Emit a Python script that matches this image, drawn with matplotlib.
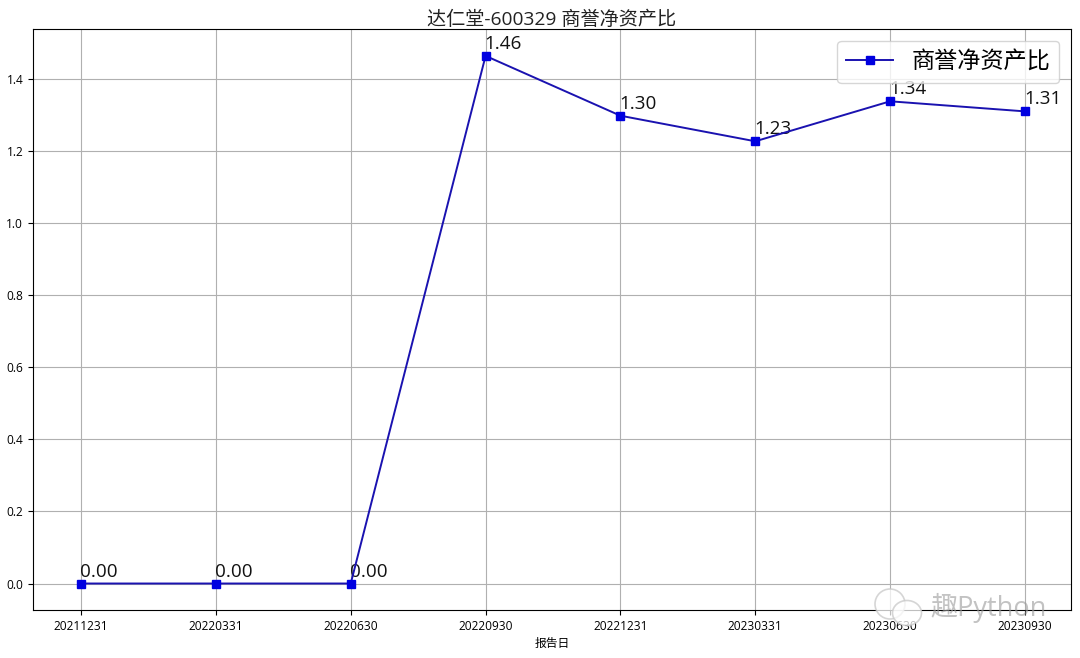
import matplotlib
matplotlib.use('Agg')
import matplotlib.pyplot as plt
from matplotlib.patches import Ellipse

plt.rcParams['font.family'] = ['Open Sans', 'Noto Sans CJK SC', 'DejaVu Sans']

dates = ['20211231', '20220331', '20220630', '20220930', '20221231', '20230331', '20230630', '20230930']
values = [0.00, 0.00, 0.00, 1.464, 1.298, 1.227, 1.338, 1.31]
title = '达仁堂-600329 商誉净资产比'
series = '商誉净资产比'
xlabel = '报告日'
watermark = '趣Python'

fig = plt.figure(figsize=(10.8, 6.58), dpi=100)
ax = fig.add_axes([33/1080, 1-610/658, (1071-33)/1080, (610-29)/658])
ax.plot(dates, values, color='#1a12b0', marker='s', markersize=5.4, markerfacecolor='#0000e0',
        markeredgecolor='#0000e0', linewidth=1.4, label=series)
for i, v in enumerate(values):
    ax.annotate(f'{v:.2f}', (i, v), xytext=(-0.7, 5.0), textcoords='offset points', fontsize=13.6, color='#111111',
                zorder=1.5)
ax.grid(True, color='#b0b0b0', linewidth=0.8)
ax.set_axisbelow(True)
ax.set_ylim(-0.0735, 1.5386)
ax.set_xlim(-0.356, 7.341)
ax.tick_params(labelsize=8.6, length=3.5)
ax.set_xlabel(xlabel, fontsize=8.5, labelpad=3)
ax.set_title(title, fontsize=13.8, pad=3, color='#222222')
ax.legend(loc='upper right', fontsize=16.7)

# watermark
fig.text(930/1080, 1-608/658, watermark, fontsize=19.5, color='#9a9a9a', alpha=0.6, va='center', ha='left')
for cx, cy, w, h in [(890, 604, 30, 30), (907, 613, 29, 25)]:
    fig.add_artist(Ellipse((cx/1080, 1-cy/658), w/1080, h/658, transform=fig.transFigure,
                           facecolor='white', edgecolor='#c8c8c8', linewidth=1.2, alpha=0.75))
fig.savefig('out.png', dpi=100)
